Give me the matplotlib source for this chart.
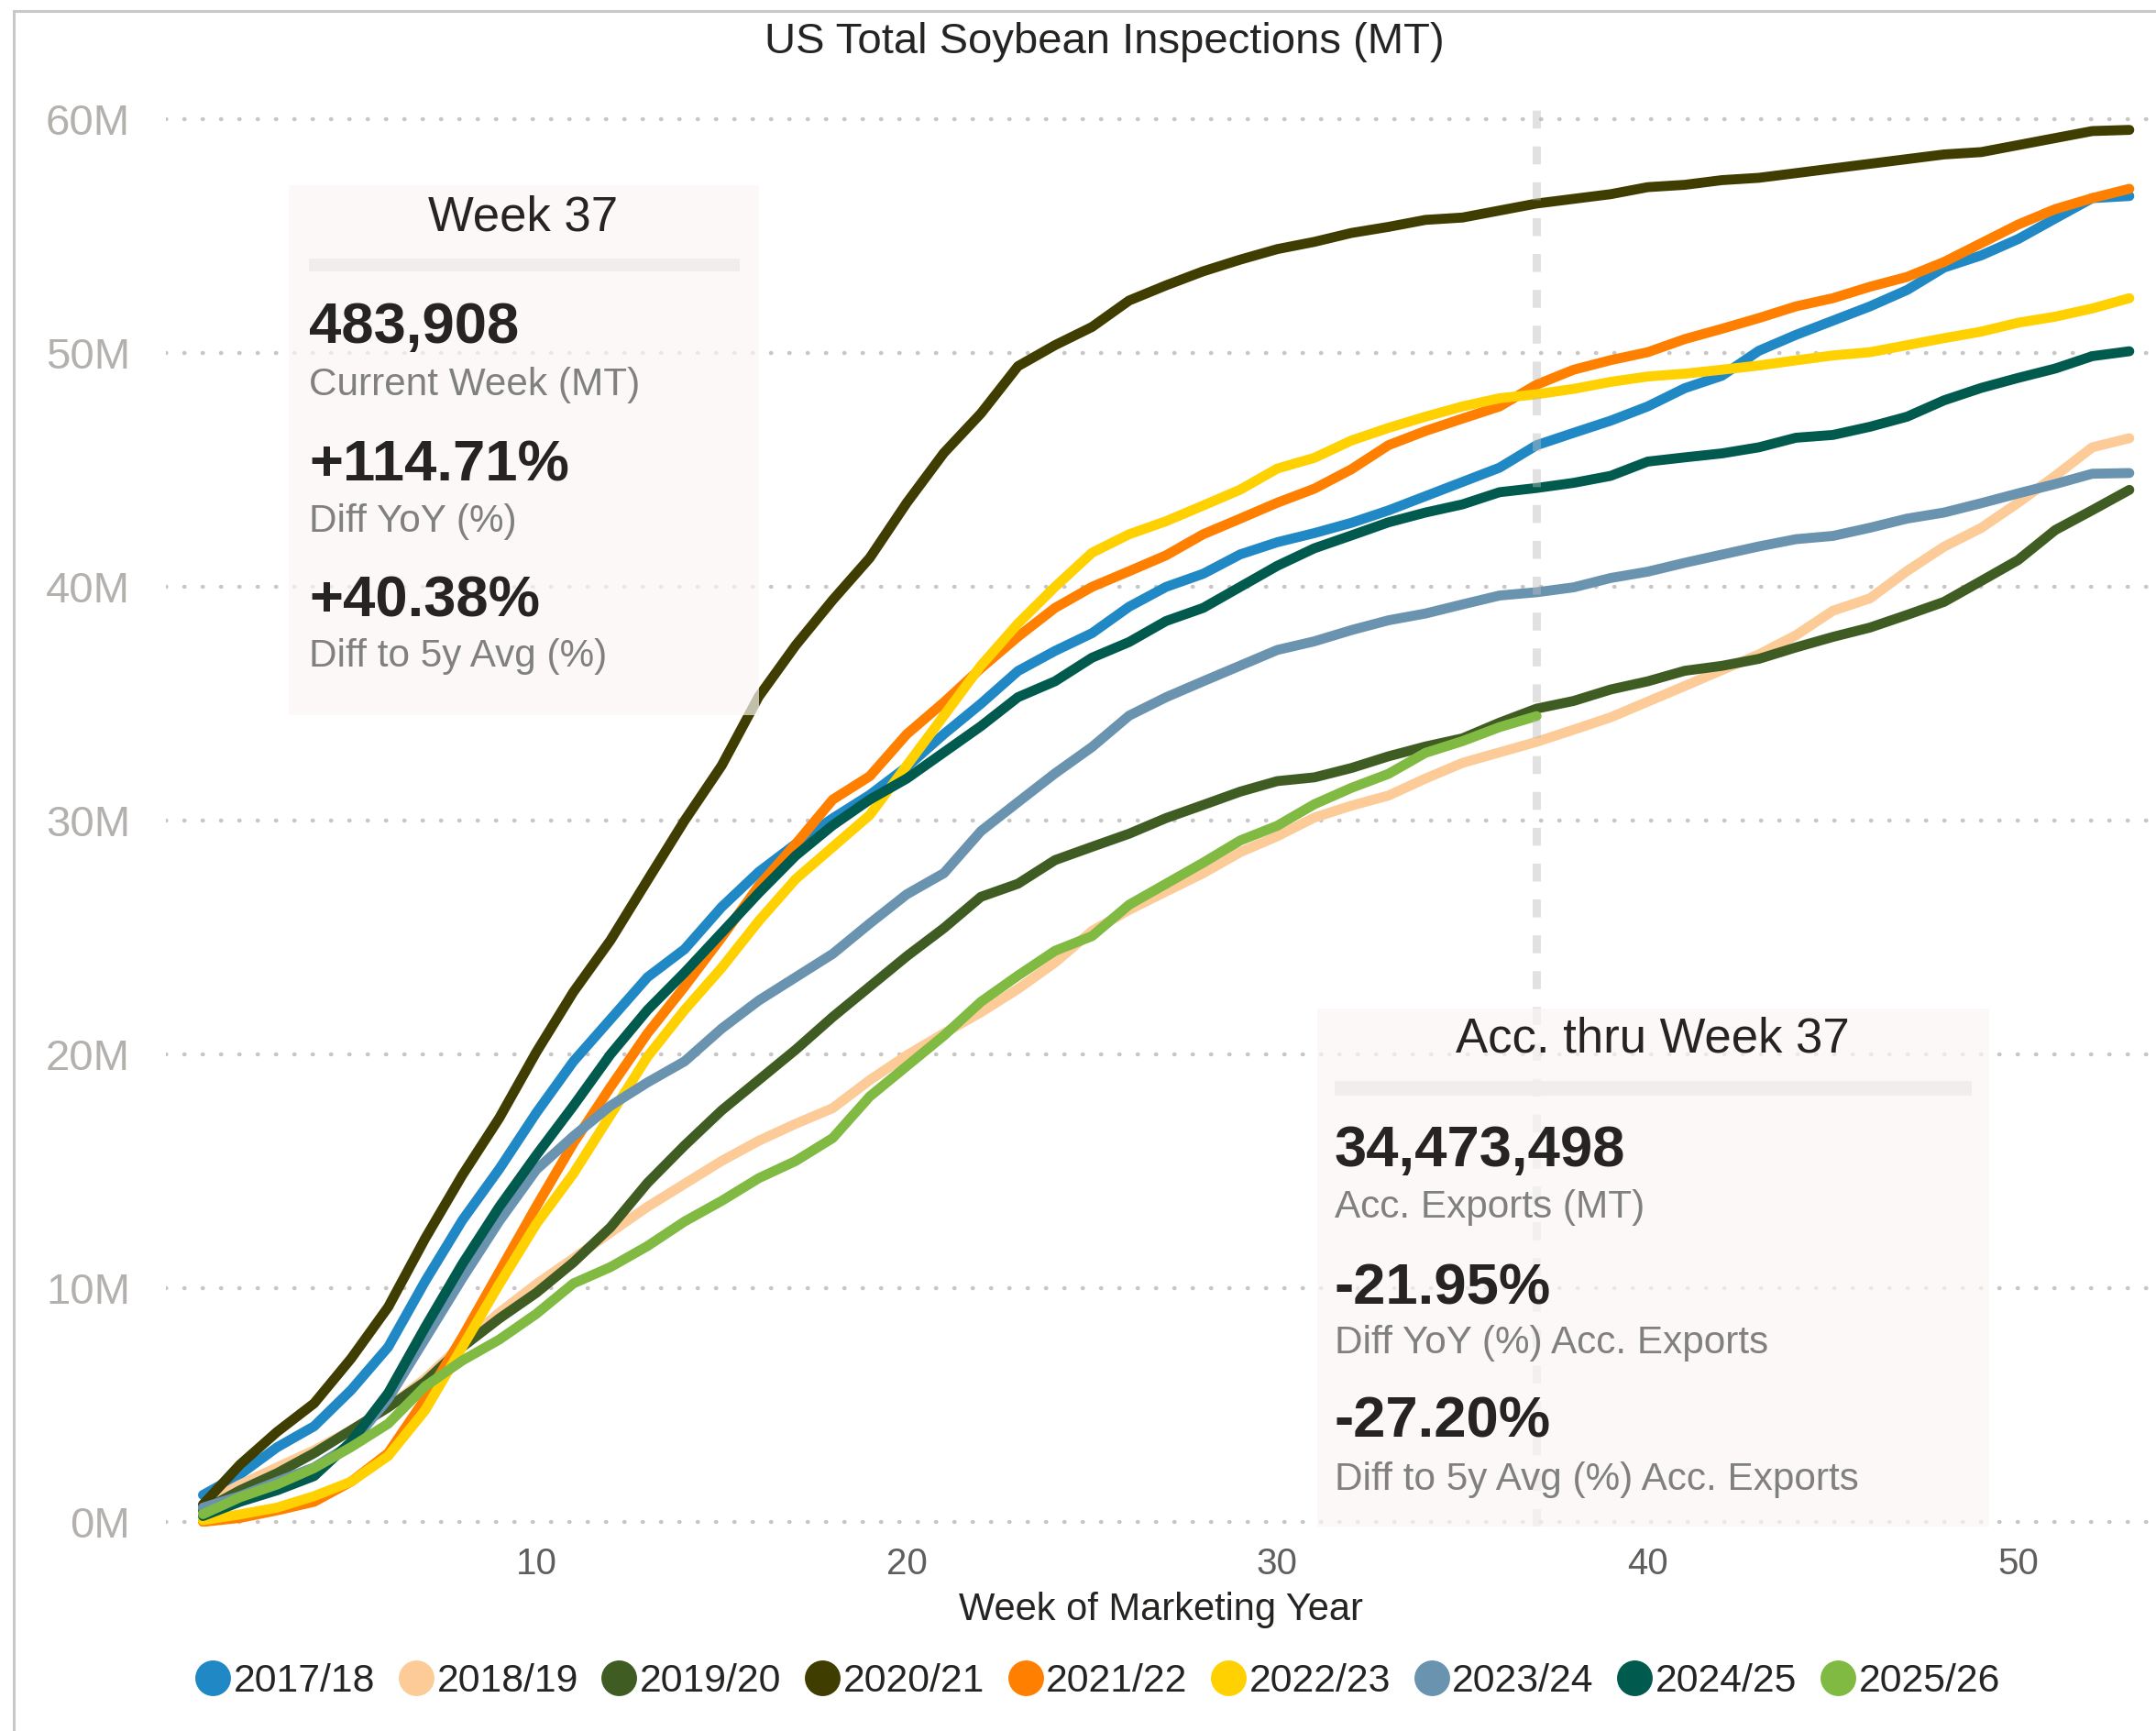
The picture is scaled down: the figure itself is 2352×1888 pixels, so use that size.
import matplotlib
matplotlib.use("Agg")
import matplotlib.pyplot as plt
from matplotlib.lines import Line2D
from matplotlib.patches import Rectangle

plt.rcParams["font.family"] = ["Liberation Sans", "DejaVu Sans"]

W, H = 2352, 1888

seasons = ["2017/18", "2018/19", "2019/20", "2020/21", "2021/22",
           "2022/23", "2023/24", "2024/25", "2025/26"]
colours = ["#2089C5", "#FCCB98", "#3F5D23", "#3F3D00", "#FF8000",
           "#FFD100", "#6A93B0", "#005A4E", "#80BA42"]

weeks = list(range(1, 54))

# cumulative inspections, million MT, week 1..53
s1718 = [1.15, 2.03, 3.19, 4.09, 5.64, 7.48, 10.3, 12.9, 15.1, 17.5,
         19.7, 21.5, 23.3, 24.5, 26.3, 27.8, 29.0, 30.1, 31.1, 32.3,
         33.7, 35.0, 36.4, 37.26, 38.02, 39.15, 40.0, 40.56, 41.39, 41.91,
         42.3, 42.74, 43.27, 43.88, 44.49, 45.1, 46.06, 46.59, 47.11, 47.72,
         48.5, 49.03, 50.1, 50.78, 51.39, 52.0, 52.7, 53.66, 54.18, 54.88,
         55.76, 56.63, 56.72]
s1819 = [0.74, 1.59, 2.33, 3.06, 3.92, 4.9, 6.13, 7.6, 8.95, 10.17,
         11.27, 12.38, 13.48, 14.46, 15.44, 16.3, 17.03, 17.7, 18.9, 19.96,
         20.9, 21.8, 22.8, 23.93, 25.28, 26.18, 26.97, 27.75, 28.65, 29.33,
         30.13, 30.64, 31.07, 31.8, 32.47, 32.92, 33.37, 33.89, 34.42, 35.09,
         35.76, 36.44, 37.11, 37.93, 38.98, 39.51, 40.68, 41.72, 42.52, 43.6,
         44.75, 45.97, 46.36]
s1920 = [0.49, 1.35, 2.08, 2.94, 3.92, 4.9, 6.0, 7.48, 8.7, 9.8,
         11.1, 12.6, 14.5, 16.1, 17.6, 18.9, 20.2, 21.6, 22.9, 24.2,
         25.4, 26.74, 27.3, 28.31, 28.88, 29.44, 30.11, 30.67, 31.24, 31.69,
         31.85, 32.25, 32.75, 33.17, 33.52, 34.19, 34.79, 35.12, 35.61, 35.96,
         36.41, 36.62, 36.92, 37.41, 37.86, 38.26, 38.8, 39.36, 40.25, 41.15,
         42.43, 43.28, 44.15]
s2021 = [0.74, 2.45, 3.85, 5.07, 6.99, 9.19, 12.13, 14.83, 17.28, 20.1,
         22.67, 24.88, 27.45, 30.0, 32.35, 35.3, 37.5, 39.44, 41.24, 43.6,
         45.73, 47.42, 49.44, 50.34, 51.12, 52.25, 52.9, 53.5, 54.0, 54.45,
         54.76, 55.14, 55.4, 55.7, 55.8, 56.1, 56.4, 56.6, 56.8, 57.1,
         57.2, 57.4, 57.5, 57.7, 57.9, 58.1, 58.3, 58.5, 58.6, 58.9,
         59.2, 59.5, 59.55]
s2122 = [0.0, 0.17, 0.49, 0.86, 1.72, 2.94, 5.27, 7.9, 10.7, 13.5,
         16.2, 18.6, 20.9, 22.9, 25.0, 27.2, 29.0, 30.9, 31.9, 33.7,
         35.06, 36.52, 37.87, 39.1, 40.0, 40.67, 41.35, 42.25, 42.92, 43.6,
         44.2, 45.03, 46.06, 46.67, 47.2, 47.72, 48.65, 49.29, 49.7, 50.04,
         50.6, 51.04, 51.5, 52.0, 52.35, 52.84, 53.26, 53.9, 54.7, 55.5,
         56.16, 56.63, 57.03]
s2223 = [0.07, 0.32, 0.61, 1.1, 1.72, 2.82, 4.78, 7.48, 10.17, 12.75,
         14.9, 17.4, 19.9, 21.9, 23.7, 25.7, 27.5, 28.87, 30.24, 32.36,
         34.49, 36.63, 38.43, 40.0, 41.46, 42.25, 42.81, 43.48, 44.16, 45.06,
         45.52, 46.26, 46.8, 47.28, 47.72, 48.07, 48.24, 48.47, 48.77, 49.0,
         49.12, 49.29, 49.47, 49.69, 49.9, 50.04, 50.34, 50.64, 50.92, 51.3,
         51.56, 51.91, 52.35]
s2324 = [0.61, 1.1, 1.72, 2.33, 3.31, 5.27, 7.84, 10.42, 12.87, 15.07,
         16.5, 17.8, 18.8, 19.7, 21.1, 22.3, 23.3, 24.3, 25.6, 26.85,
         27.75, 29.55, 30.79, 32.02, 33.15, 34.49, 35.28, 35.96, 36.63, 37.3,
         37.67, 38.15, 38.57, 38.86, 39.25, 39.63, 39.77, 39.98, 40.38, 40.65,
         41.03, 41.38, 41.73, 42.04, 42.18, 42.53, 42.92, 43.18, 43.58, 44.0,
         44.4, 44.84, 44.87]
s2425 = [0.25, 0.86, 1.35, 1.96, 3.43, 5.51, 8.33, 11.03, 13.48, 15.69,
         17.8, 20.0, 21.9, 23.5, 25.2, 26.9, 28.5, 29.8, 30.9, 31.8,
         32.92, 34.04, 35.28, 35.96, 36.97, 37.64, 38.54, 39.1, 40.0, 40.9,
         41.65, 42.2, 42.76, 43.18, 43.53, 44.05, 44.23, 44.45, 44.75, 45.36,
         45.54, 45.71, 45.97, 46.38, 46.5, 46.85, 47.28, 47.98, 48.51, 48.94,
         49.34, 49.87, 50.08]
s2526 = [0.33, 1.05, 1.6, 2.3, 3.2, 4.2, 5.8, 6.9, 7.8, 8.9,
         10.2, 10.9, 11.8, 12.85, 13.73, 14.7, 15.44, 16.42, 18.2, 19.5,
         20.8, 22.25, 23.37, 24.43, 25.06, 26.4, 27.3, 28.2, 29.15, 29.78,
         30.7, 31.4, 32.0, 32.9, 33.4, 34.0, 34.47]
series = [s1718, s1819, s1920, s2021, s2122, s2223, s2324, s2425, s2526]

current_week = 37
card_week = [("483,908", "Current Week (MT)"),
             ("+114.71%", "Diff YoY (%)"),
             ("+40.38%", "Diff to 5y Avg (%)")]
card_acc = [("34,473,498", "Acc. Exports (MT)"),
            ("-21.95%", "Diff YoY (%) Acc. Exports"),
            ("-27.20%", "Diff to 5y Avg (%) Acc. Exports")]


def fx(px):
    return px / W


def fy(py):
    return 1 - py / H


fig = plt.figure(figsize=(W / 200, H / 200), dpi=200)
ax = fig.add_axes([fx(181), fy(1665), fx(W - 181), (1665 - 120) / H])

for yv in range(0, 61, 10):
    ax.axhline(yv, color="#C8C6C4", lw=1.6, linestyle=(0, (0.1, 4.4)),
               dash_capstyle="round", zorder=1)

for name, col, vals in zip(seasons, colours, series):
    ax.plot(weeks[:len(vals)], vals, color=col, lw=3.9,
            solid_capstyle="round", solid_joinstyle="round", zorder=3)

ax.axvline(current_week, color="#BDBDBD", alpha=0.45, lw=3.2,
           dashes=(2.2, 2.2), zorder=5)

ax.set_xlim(0, 53.72)
ax.set_ylim(-0.2, 60.4)
ax.set_xticks([10, 20, 30, 40, 50])
ax.set_yticks(range(0, 61, 10))
ax.set_yticklabels([f"{v}M" for v in range(0, 61, 10)])
ax.tick_params(axis="y", length=0, pad=14, labelsize=17, labelcolor="#B3B0AD")
ax.tick_params(axis="x", length=0, pad=8, labelsize=14.5, labelcolor="#605E5C")
for sp in ax.spines.values():
    sp.set_visible(False)
ax.set_xlabel("Week of Marketing Year", fontsize=15, color="#252423",
              labelpad=4)

fig.text(fx(1205), fy(46), "US Total Soybean Inspections (MT)",
         ha="center", va="center", fontsize=17, color="#252423")

# outer frame (left + top)
fig.add_artist(Line2D([fx(15), fx(15)], [0, fy(12)], color="#C8C8C8",
                      lw=1.1, transform=fig.transFigure))
fig.add_artist(Line2D([fx(15), 1], [fy(12), fy(12)], color="#C8C8C8",
                      lw=1.1, transform=fig.transFigure))


def card(x0, y0, x1, y1, title, tcx, tcy, sep, rows, left, ys):
    fig.add_artist(Rectangle((fx(x0), fy(y1)), fx(x1 - x0), (y1 - y0) / H,
                             transform=fig.transFigure, facecolor="#FAF6F4",
                             edgecolor="none", alpha=0.7, zorder=6))
    sx0, sy0, sx1, sy1 = sep
    fig.add_artist(Rectangle((fx(sx0), fy(sy1)), fx(sx1 - sx0),
                             (sy1 - sy0) / H, transform=fig.transFigure,
                             facecolor="#EFEEED", edgecolor="none", zorder=7))
    fig.text(fx(tcx), fy(tcy), title, ha="center", va="center",
             fontsize=19, color="#252423", zorder=8)
    for (val, lab), (yv, yl) in zip(rows, ys):
        fig.text(fx(left), fy(yv), val, ha="left", va="center", fontsize=22.8,
                 fontweight="bold", color="#252423", zorder=8)
        fig.text(fx(left), fy(yl), lab, ha="left", va="center", fontsize=15.2,
                 color="#808080", zorder=8)


card(315, 202, 828, 780, f"Week {current_week}", 571, 237,
     (337, 282, 807, 296), card_week, 337,
     [(358, 420), (508, 569), (656, 716)])
card(1437, 1100, 2170, 1665, f"Acc. thru Week {current_week}", 1803, 1134,
     (1456, 1179, 2151, 1195), card_acc, 1456,
     [(1256, 1317), (1406, 1465), (1551, 1614)])

handles = [Line2D([], [], marker="o", linestyle="none", markersize=13,
                  markerfacecolor=c, markeredgecolor=c) for c in colours]
fig.legend(handles, seasons, loc="center", ncol=len(seasons),
           bbox_to_anchor=(fx(1198), fy(1834)), frameon=False, fontsize=15.4,
           handlelength=0.85, handletextpad=0.1, columnspacing=0.62,
           labelcolor="#252423")

fig.savefig("out.png", dpi=200, facecolor="white")
